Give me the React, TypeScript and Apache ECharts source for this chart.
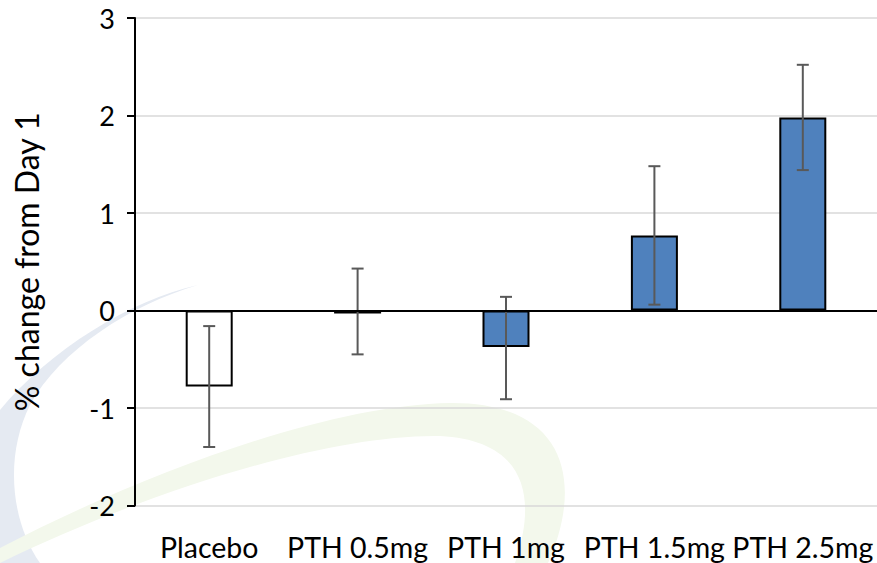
import React, { useEffect, useRef } from "react";
import * as echarts from "echarts";

const categories = ["Placebo", "PTH 0.5mg", "PTH 1mg", "PTH 1.5mg", "PTH 2.5mg"];
const means = [-0.78, -0.03, -0.375, 0.77, 1.98];
const errLow = [-1.4, -0.45, -0.91, 0.06, 1.44];
const errHigh = [-0.16, 0.43, 0.14, 1.48, 2.52];
const barFills = ["#ffffff", "#ffffff", "#4f81bd", "#4f81bd", "#4f81bd"];
const yTicks = [-2, -1, 0, 1, 2, 3];

const FONT = "Lato, 'Open Sans', sans-serif";

let registered = false;
function registerShapes() {
  if (registered) return;
  registered = true;
  echarts.graphic.registerShape(
    "blueSwoosh",
    echarts.graphic.extendPath(
      "M 198 285 C 130 300 50 350 0 410 L 0 563 L 40 563 C 10 520 5 455 30 405 C 60 350 130 305 198 285 Z",
      {}
    )
  );
  echarts.graphic.registerShape(
    "greenSwoosh",
    echarts.graphic.extendPath(
      "M 0 548 C 150 470 330 405 450 403 C 565 402 585 480 548 563 L 515 563 C 540 490 520 440 440 436 C 330 434 150 490 0 563 Z",
      {}
    )
  );
}

export default function App() {
  const ref = useRef<HTMLDivElement>(null);
  useEffect(() => {
    if (!ref.current) return;
    registerShapes();
    const chart = echarts.init(ref.current, null, { renderer: "svg" });
    const errData = categories.map((_, i) => [i, errLow[i], errHigh[i]]);
    chart.setOption({
      animation: false,
      backgroundColor: "#ffffff",
      graphic: [
        { type: "blueSwoosh", x: 0, y: 0, z: -10, silent: true, style: { fill: "#e5eaf2" } },
        { type: "greenSwoosh", x: 0, y: 0, z: -10, silent: true, style: { fill: "#f3f8ec" } },
      ],
      grid: { left: 135, top: 18, width: 747.5, height: 487.5, containLabel: false },
      xAxis: {
        type: "category",
        data: categories,
        axisLine: { show: false, onZero: false },
        axisTick: { show: false },
        axisLabel: {
          margin: 27,
          fontSize: 28.5,
          color: "#000000",
          fontFamily: FONT,
          interval: 0,
        },
        splitLine: { show: false },
      },
      yAxis: {
        type: "value",
        min: -2,
        max: 3,
        interval: 1,
        name: "% change from Day 1",
        nameLocation: "middle",
        nameGap: 93,
        nameRotate: 90,
        nameTextStyle: { fontSize: 32, color: "#000000", fontFamily: FONT },
        axisLine: { show: true, lineStyle: { color: "#000000", width: 2 } },
        axisTick: { show: true, length: 8, lineStyle: { color: "#000000", width: 2 } },
        axisLabel: {
          margin: 20,
          fontSize: 27,
          color: "#000000",
          fontFamily: FONT,
          customValues: yTicks,
        },
        splitLine: { show: true, lineStyle: { color: "#d9d9d9", width: 1.5 } },
      },
      series: [
        {
          type: "bar",
          barWidth: 47,
          data: means.map((v, i) => ({
            value: v,
            itemStyle: { color: barFills[i], borderColor: "#000000", borderWidth: 2 },
          })),
          markLine: {
            silent: true,
            symbol: ["none", "none"],
            label: { show: false },
            lineStyle: { color: "#000000", width: 2, type: "solid" },
            data: [{ yAxis: 0 }],
          },
          z: 2,
        },
        {
          type: "custom",
          data: errData,
          z: 3,
          renderItem: (params: any, api: any) => {
            const x = api.value(0);
            const lo = api.coord([x, api.value(1)]);
            const hi = api.coord([x, api.value(2)]);
            const hw = 6;
            const style = { stroke: "#595959", lineWidth: 2 };
            return {
              type: "group",
              children: [
                { type: "line", shape: { x1: lo[0], y1: lo[1], x2: hi[0], y2: hi[1] }, style },
                { type: "line", shape: { x1: hi[0] - hw, y1: hi[1], x2: hi[0] + hw, y2: hi[1] }, style },
                { type: "line", shape: { x1: lo[0] - hw, y1: lo[1], x2: lo[0] + hw, y2: lo[1] }, style },
              ],
            };
          },
        },
      ],
    });
    return () => chart.dispose();
  }, []);
  return (
    <div
      ref={ref}
      style={{ position: "fixed", left: 0, top: 0, width: 877, height: 563 }}
    />
  );
}
